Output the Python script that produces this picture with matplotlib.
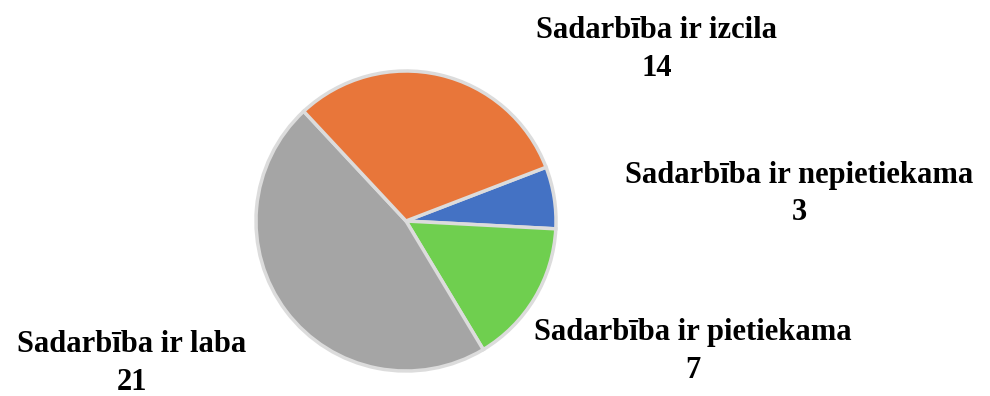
import matplotlib.pyplot as plt

# Survey answers: how is the cooperation rated
labels = ['Sadarbība ir nepietiekama', 'Sadarbība ir pietiekama',
          'Sadarbība ir laba', 'Sadarbība ir izcila']
counts = [3, 7, 21, 14]
colors = ['#4472C4', '#6FCF4F', '#A5A5A5', '#E8763A']

# label block centres, in pie-radius units
label_pos = [(2.62, 0.18), (1.91, -0.87), (-1.83, -0.95), (1.67, 1.145)]

plt.rcParams['font.family'] = ['Liberation Serif', 'DejaVu Serif']

fig = plt.figure(figsize=(9.9, 3.96), dpi=100)
ax = fig.add_axes([0, 0, 1, 1])

ax.pie(counts, colors=colors, startangle=21, counterclock=False,
       radius=1.0, center=(0, 0),
       wedgeprops=dict(edgecolor='#DCDCDC', linewidth=2.5))

for lab, val, (x, y) in zip(labels, counts, label_pos):
    ax.text(x, y, f'{lab}\n{val}', ha='center', va='center',
            fontsize=22, fontweight='bold', linespacing=1.4)

ax.set_xlim(-406 / 150, (990 - 406) / 150)
ax.set_ylim(-175 / 150, 221 / 150)
ax.set_aspect('equal')
ax.axis('off')

fig.savefig('out.png', dpi=100)
